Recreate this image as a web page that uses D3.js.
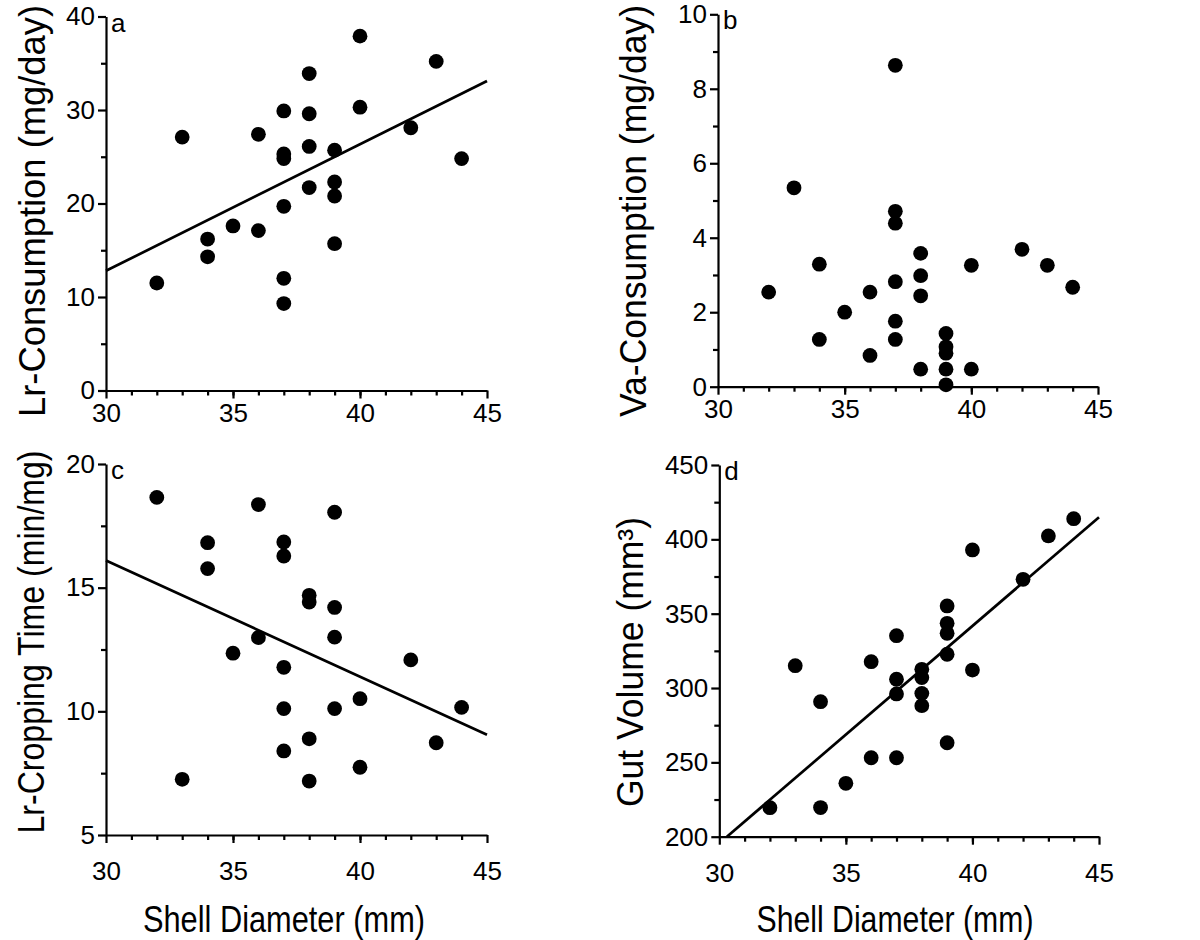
<!DOCTYPE html>
<html>
<head>
<meta charset="utf-8">
<script src="https://cdn.jsdelivr.net/npm/d3@7"></script>
<style>
  body { margin: 0; background: #fff; }
  svg text { font-family: "Liberation Sans", Arial, Helvetica, sans-serif; fill: #000; }
</style>
</head>
<body>
<svg id="chart" width="1200" height="940"></svg>
<script>
// shell diameter (mm) and response per panel
const xA = [32,33,34,34,35,36,36,37,37,37,37,37,37,38,38,38,38,39,39,39,39,40,40,42,43,44];
const lrConsumption = [11.5,27.1,16.2,14.3,17.6,27.4,17.1,29.9,25.3,24.8,19.7,12.0,9.3,33.9,29.6,26.1,21.7,25.7,22.3,20.8,15.7,37.9,30.3,28.1,35.2,24.8];

const xB = [32,33,34,34,35,36,36,37,37,37,37,37,37,38,38,38,38,39,39,39,39,39,40,40,42,43,44];
const vaConsumption = [2.54,5.34,3.29,1.27,2.0,2.54,0.84,8.63,4.71,4.39,2.82,1.76,1.27,3.58,2.98,2.44,0.47,1.43,1.07,0.9,0.47,0.05,3.26,0.47,3.69,3.26,2.67];

const xC = [32,33,34,34,35,36,36,37,37,37,37,37,38,38,38,38,39,39,39,39,40,40,42,43,44];
const croppingTime = [18.65,7.25,16.82,15.77,12.35,18.36,12.98,16.85,16.28,11.78,10.11,8.40,14.69,14.42,8.89,7.18,18.05,14.2,13.0,10.11,10.51,7.74,12.08,8.73,10.16];

const xD = [32,33,34,34,35,36,36,37,37,37,37,38,38,38,38,39,39,39,39,39,40,40,42,43,44];
const gutVolume = [219.5,315,290.8,219.6,235.9,317.7,253.1,335.2,305.9,296,253.1,312.6,307,296.4,288.1,355.2,343.5,336.8,322.7,263.2,392.9,312.1,373.1,402.3,413.9];

// regression line end points [x, y]
const fitA = [[30, 12.8], [45, 33.1]];
const fitC = [[30, 16.1], [45, 9.05]];
const fitD = [[30.3, 200], [45, 414.8]];

const xTicks = [30, 35, 40, 45];
const xMinor = d3.range(31, 45);

const svg = d3.select("#chart");

function panel(o) {
  const x = d3.scaleLinear().domain([30, 45]).range([o.left, o.right]);
  const y = d3.scaleLinear().domain(o.yDomain).range([o.bottom, o.top]);
  const g = svg.append("g");

  // minor ticks
  g.append("g")
    .attr("transform", `translate(0,${o.bottom})`)
    .call(d3.axisBottom(x).tickValues(xMinor).tickSize(5).tickFormat(""))
    .call(s => s.select(".domain").remove());
  g.append("g")
    .attr("transform", `translate(${o.left},0)`)
    .call(d3.axisLeft(y).tickValues(o.yMinor).tickSize(5).tickFormat(""))
    .call(s => s.select(".domain").remove());

  const xa = g.append("g")
    .attr("transform", `translate(0,${o.bottom})`)
    .call(d3.axisBottom(x).tickValues(xTicks).tickSize(8).tickSizeOuter(0).tickPadding(o.xPad));
  const ya = g.append("g")
    .attr("transform", `translate(${o.left},0)`)
    .call(d3.axisLeft(y).tickValues(o.yTicks).tickSize(8).tickSizeOuter(0).tickPadding(3));

  g.selectAll(".tick line, .domain").attr("stroke", "#000").attr("stroke-width", 2.2);
  [xa, ya].forEach(a => a.selectAll("text").style("font-size", "26px"));
  svg.selectAll(".tick text").attr("fill", "#000");

  if (o.fit) {
    g.append("line")
      .attr("x1", x(o.fit[0][0])).attr("y1", y(o.fit[0][1]))
      .attr("x2", x(o.fit[1][0])).attr("y2", y(o.fit[1][1]))
      .attr("stroke", "#000").attr("stroke-width", 2.7);
  }

  g.selectAll("circle.pt")
    .data(d3.zip(o.xs, o.ys))
    .join("circle")
    .attr("class", "pt")
    .attr("cx", d => x(d[0]))
    .attr("cy", d => y(d[1]))
    .attr("r", 7.4)
    .attr("fill", "#000");

  g.append("text")
    .attr("x", o.left + 5).attr("y", o.top + 15)
    .style("font-size", "26px")
    .text(o.tag);

  g.append("text")
    .attr("transform", `translate(${o.yTitleX},${o.yTitleY}) rotate(-90)`)
    .attr("text-anchor", "middle")
    .attr("textLength", o.yTitleLen).attr("lengthAdjust", "spacingAndGlyphs")
    .style("font-size", "36px")
    .text(o.yTitle);

  if (o.xTitle) {
    g.append("text")
      .attr("x", o.xTitleX).attr("y", 932)
      .attr("text-anchor", "middle")
      .attr("textLength", o.xTitleLen).attr("lengthAdjust", "spacingAndGlyphs")
      .style("font-size", "36px")
      .text(o.xTitle);
  }
}

panel({
  xs: xA, ys: lrConsumption, fit: fitA, tag: "a",
  left: 106, right: 487, top: 16.5, bottom: 390.5,
  yDomain: [0, 40], yTicks: [0, 10, 20, 30, 40], yMinor: [5, 15, 25, 35],
  xPad: 5, yTitle: "Lr-Consumption (mg/day)", yTitleX: 45, yTitleY: 211, yTitleLen: 412
});
panel({
  xs: xB, ys: vaConsumption, tag: "b",
  left: 718, right: 1098, top: 14.3, bottom: 386.7,
  yDomain: [0, 10], yTicks: [0, 2, 4, 6, 8, 10], yMinor: [1, 3, 5, 7, 9],
  xPad: 5, yTitle: "Va-Consumption (mg/day)", yTitleX: 646, yTitleY: 211, yTitleLen: 412
});
panel({
  xs: xC, ys: croppingTime, fit: fitC, tag: "c",
  left: 106, right: 487, top: 464, bottom: 835,
  yDomain: [5, 20], yTicks: [5, 10, 15, 20], yMinor: [7.5, 12.5, 17.5],
  xPad: 19, yTitle: "Lr-Cropping Time (min/mg)", yTitleX: 44, yTitleY: 642, yTitleLen: 383,
  xTitle: "Shell Diameter (mm)", xTitleX: 284, xTitleLen: 282
});
panel({
  xs: xD, ys: gutVolume, fit: fitD, tag: "d",
  left: 719.3, right: 1099, top: 465, bottom: 836.7,
  yDomain: [200, 450], yTicks: [200, 250, 300, 350, 400, 450], yMinor: d3.range(225, 450, 50),
  xPad: 19, yTitle: "Gut Volume (mm³)", yTitleX: 643, yTitleY: 662, yTitleLen: 290,
  xTitle: "Shell Diameter (mm)", xTitleX: 895, xTitleLen: 277
});
</script>
</body>
</html>
